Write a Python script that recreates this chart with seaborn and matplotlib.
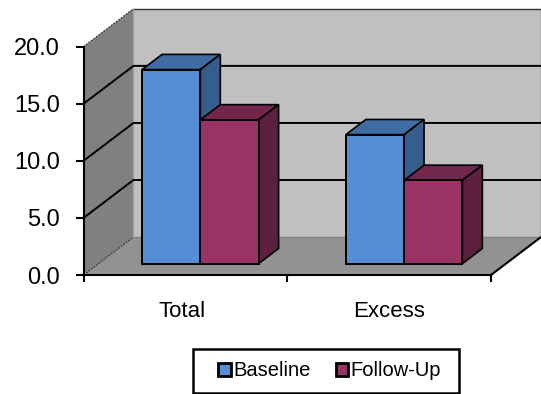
import seaborn as sns
from matplotlib import pyplot as plt
from matplotlib.patches import Polygon, Rectangle
import pandas as pd

categories = ["Total", "Excess"]
series = ["Baseline", "Follow-Up"]
baseline = [17.0, 11.3]
follow_up = [12.6, 7.3]
y_ticks = [0, 5, 10, 15, 20]

front_colors = ["#558ED5", "#993366"]
top_colors = ["#3F6CA3", "#73264C"]
side_colors = ["#375D8E", "#5E203F"]

# depth of the 3d box, in data units
DEPTH_X = 0.245
DEPTH_Y = 3.32
# how far into the box the bars stand
BAR_POS = 0.3
BAR_DEPTH = 0.4

W, H = 541, 394

sns.set_style("white")
plt.rcParams['font.family'] = ['Liberation Sans', 'DejaVu Sans']

df = pd.DataFrame({
    "category": categories * 2,
    "series": [series[0]] * 2 + [series[1]] * 2,
    "value": baseline + follow_up,
})

fig = plt.figure(figsize=(W / 100, H / 100), dpi=100)
ax = fig.add_axes([83.5 / W, 1 - 275 / H, 407.5 / W, 228.3 / H])
ax.patch.set_visible(False)

sns.barplot(
    data=df, x="category", y="value", hue="series", order=categories,
    hue_order=series, palette=front_colors, width=0.572, gap=0,
    saturation=1, edgecolor="black", linewidth=1.4, ax=ax,
)
ax.set_xlim(-0.5, 1.5)
ax.set_ylim(0, 20)

x0, x1 = -0.5, 1.5
ymax = 20


def face(points, color, z, edge="none", lw=0):
    ax.add_patch(Polygon(points, closed=True, facecolor=color, edgecolor=edge,
                         linewidth=lw, clip_on=False, zorder=z))


# walls and floor
face([(x0 + DEPTH_X, DEPTH_Y), (x1 + DEPTH_X, DEPTH_Y),
      (x1 + DEPTH_X, ymax + DEPTH_Y), (x0 + DEPTH_X, ymax + DEPTH_Y)], "#C0C0C0", 0.1)
face([(x0, 0), (x0 + DEPTH_X, DEPTH_Y), (x0 + DEPTH_X, ymax + DEPTH_Y), (x0, ymax)], "#808080", 0.2)
face([(x0, 0), (x1, 0), (x1 + DEPTH_X, DEPTH_Y), (x0 + DEPTH_X, DEPTH_Y)], "#929292", 0.3)

# wall edges
ax.plot([x0 + DEPTH_X, x1 + DEPTH_X], [ymax + DEPTH_Y] * 2, color="#333333", lw=1.0, clip_on=False, zorder=0.6)
ax.plot([x1 + DEPTH_X] * 2, [DEPTH_Y, ymax + DEPTH_Y], color="#777777", lw=1.0, clip_on=False, zorder=0.6)
ax.plot([x0 + DEPTH_X, x1 + DEPTH_X], [DEPTH_Y] * 2, color="#808080", lw=1.0, clip_on=False, zorder=0.6)
ax.plot([x0 + DEPTH_X] * 2, [DEPTH_Y, ymax + DEPTH_Y], color="#A0A0A0", lw=1.0, clip_on=False, zorder=0.6)
ax.plot([x0, x0 + DEPTH_X], [ymax, ymax + DEPTH_Y], color="#333333", lw=0.9, ls=(0, (1.5, 1)), clip_on=False, zorder=0.6)
ax.plot([x0, x0 + DEPTH_X], [0, DEPTH_Y], color="#333333", lw=0.9, ls=(0, (1.5, 1)), clip_on=False, zorder=0.6)
ax.plot([x1, x1 + DEPTH_X], [0, DEPTH_Y], color="black", lw=1.5, clip_on=False, zorder=0.6)

# gridlines run along the side wall and the back wall
for v in y_ticks[1:-1]:
    ax.plot([x0, x0 + DEPTH_X, x1 + DEPTH_X], [v, v + DEPTH_Y, v + DEPTH_Y],
            color="black", lw=1.4, clip_on=False, zorder=0.7)

# turn seaborn's flat bars into boxes
bars = [b for b in ax.patches if isinstance(b, Rectangle) and b.get_height() > 0]
for n, bar in enumerate(bars):
    s = n // 2
    z = 2 + (n % 2) * 2 + s
    bar_x = bar.get_x() + BAR_POS * DEPTH_X
    bar_y = BAR_POS * DEPTH_Y
    w, h = bar.get_width(), bar.get_height()
    bar.set_x(bar_x)
    bar.set_y(bar_y)
    bar.set_zorder(z + 0.5)
    bar.set_clip_on(False)
    ddx, ddy = BAR_DEPTH * DEPTH_X, BAR_DEPTH * DEPTH_Y
    face([(bar_x, bar_y + h), (bar_x + w, bar_y + h),
          (bar_x + w + ddx, bar_y + h + ddy), (bar_x + ddx, bar_y + h + ddy)],
         top_colors[s], z, "black", 1.2)
    face([(bar_x + w, bar_y), (bar_x + w + ddx, bar_y + ddy),
          (bar_x + w + ddx, bar_y + h + ddy), (bar_x + w, bar_y + h)],
         side_colors[s], z, "black", 1.2)

sns.despine(ax=ax)
for side in ["left", "bottom"]:
    ax.spines[side].set_linewidth(1.5)
    ax.spines[side].set_color("black")
    ax.spines[side].set_zorder(1)

ax.set_yticks(y_ticks)
ax.set_yticklabels([f"{v:.1f}" for v in y_ticks], fontsize=17, color="black")
ax.tick_params(axis="y", left=True, length=6, width=1.5, color="black", pad=11)

# ticks sit between the categories, labels under the middle of each
ax.set_xticks([-0.5, 0.5, 1.5])
ax.set_xticklabels([])
ax.set_xticks([-0.015, 1], labels=categories, minor=True)
ax.tick_params(axis="x", which="major", bottom=True, length=5, width=1.5, color="black")
ax.tick_params(axis="x", which="minor", bottom=False, length=0, pad=19, labelsize=16, labelcolor="black")
ax.set_xlabel("")
ax.set_ylabel("")

# legend box is wider than its entries, so the frame is drawn on its own
fig.add_artist(Rectangle((192.5 / W, 1 - 392.5 / H), 266.5 / W, 43.2 / H, transform=fig.transFigure,
                         facecolor="white", edgecolor="black", linewidth=1.8, zorder=1))
handles, labels = ax.get_legend_handles_labels()
ax.get_legend().remove()
leg = fig.legend(
    handles, labels, ncol=2, loc="center", fontsize=14.5,
    bbox_to_anchor=(329.5 / W, 1 - 371 / H), bbox_transform=fig.transFigure,
    handlelength=0.62, handleheight=0.62, handletextpad=0.12, columnspacing=1.25,
    frameon=False, labelcolor="black",
)
leg.set_zorder(5)
for h in leg.legend_handles:
    h.set_linewidth(2.0)

fig.savefig("out.png", dpi=100)
